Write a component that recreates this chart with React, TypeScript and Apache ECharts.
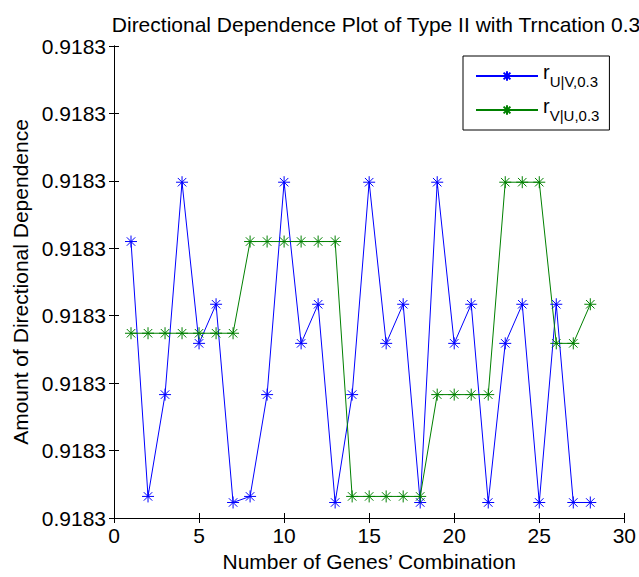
import React, { useEffect, useRef } from "react";
import * as echarts from "echarts";

// x: gene combination index
const xValues = [1,2,3,4,5,6,7,8,9,10,11,12,13,14,15,16,17,18,19,20,21,22,23,24,25,26,27,28];
// values as offsets above 0.9183, in units of 1e-7 (one tick step)
const rUV = [4.10,0.32,1.83,4.98,2.59,3.17,0.23,0.32,1.83,4.98,2.59,3.17,0.23,1.83,4.98,2.59,3.17,0.23,4.98,2.59,3.17,0.23,2.59,3.17,0.23,3.17,0.23,0.23];
const rVU = [2.74,2.74,2.74,2.74,2.74,2.74,2.74,4.10,4.10,4.10,4.10,4.10,4.10,0.32,0.32,0.32,0.32,0.32,1.83,1.83,1.83,1.83,4.98,4.98,4.98,2.59,2.59,3.17];
const baseValue = 0.9183;
const unit = 1e-7;
const seriesNames = ["rUV", "rVU"];
const legendSubs = ["U|V,0.3", "V|U,0.3"];
const titleText = "Directional Dependence Plot of Type II with Trncation 0.3";
const xName = "Number of Genes\u2019 Combination";
const yName = "Amount of Directional Dependence";

const FONT = "'Liberation Sans', Arial, Helvetica, sans-serif";
const FS = 21;
const STAR = "path://M0,-10L0,10M-10,0L10,0M-7.07,-7.07L7.07,7.07M-7.07,7.07L7.07,-7.07";

export default function App() {
  const ref = useRef<HTMLDivElement>(null);
  useEffect(() => {
    if (!ref.current) return;
    const chart = echarts.init(ref.current, null, { renderer: "svg" });
    const mk = (name: string, vals: number[], color: string) => ({
      name,
      type: "line",
      data: xValues.map((x, i) => [x, vals[i]]),
      symbol: STAR,
      symbolSize: 12,
      showSymbol: true,
      lineStyle: { color, width: 1 },
      itemStyle: { color: "none", borderColor: color, borderWidth: 1 },
      emphasis: { disabled: true },
      z: 3,
    });
    const axisCommon = {
      type: "value",
      axisLine: { show: true, lineStyle: { color: "#000", width: 1 } },
      axisTick: { show: true, inside: true, length: 5, lineStyle: { color: "#000" } },
      splitLine: { show: false },
    };
    chart.setOption({
      animation: false,
      backgroundColor: "#fff",
      textStyle: { fontFamily: FONT },
      title: {
        text: titleText,
        left: 371,
        textAlign: "center",
        top: 9,
        textStyle: { fontSize: FS, fontWeight: "normal", color: "#000", fontFamily: FONT },
      },
      grid: { left: 114, right: 14, top: 46, bottom: 59 },
      legend: {
        orient: "vertical",
        left: 463,
        top: 56,
        width: 150,
        padding: [6, 10, 6, 12],
        itemGap: 6,
        itemWidth: 62,
        itemHeight: 12,
        backgroundColor: "#fff",
        borderColor: "#000",
        borderWidth: 1,
        data: seriesNames,
        formatter: (n: string) => `{r|r}{s|${legendSubs[seriesNames.indexOf(n)]}}`,
        textStyle: {
          color: "#000",
          fontFamily: FONT,
          rich: {
            r: { fontSize: 20, color: "#000", fontFamily: FONT, lineHeight: 29, padding: [0, 0, 8, 0] },
            s: { fontSize: 15, color: "#000", fontFamily: FONT, lineHeight: 29, padding: [10, 0, 0, 0] },
          },
        },
      },
      xAxis: [
        {
          ...axisCommon,
          position: "bottom",
          min: 0,
          max: 30,
          interval: 5,
          name: xName,
          nameLocation: "middle",
          nameGap: 31,
          nameTextStyle: { fontSize: FS, color: "#000", fontFamily: FONT },
          axisLabel: { fontSize: FS, color: "#000", margin: 7, fontFamily: FONT },
        },
        {
          ...axisCommon,
          position: "top",
          min: 0,
          max: 30,
          interval: 5,
          axisLabel: { show: false },
        },
      ],
      yAxis: [
        {
          ...axisCommon,
          position: "left",
          min: 0,
          max: 7,
          interval: 1,
          name: yName,
          nameLocation: "middle",
          nameGap: 83,
          nameTextStyle: { fontSize: FS, color: "#000", fontFamily: FONT },
          axisLabel: {
            fontSize: FS,
            color: "#000",
            margin: 8,
            fontFamily: FONT,
            formatter: (v: number) => (baseValue + v * unit).toFixed(4),
          },
        },
        {
          ...axisCommon,
          position: "right",
          min: 0,
          max: 7,
          interval: 1,
          axisLabel: { show: false },
        },
      ],
      series: [mk(seriesNames[0], rUV, "#0000ff"), mk(seriesNames[1], rVU, "#008000")],
    });
    return () => chart.dispose();
  }, []);
  return (
    <div
      ref={ref}
      style={{ position: "absolute", left: 0, top: 0, width: 639, height: 577, background: "#fff" }}
    />
  );
}
